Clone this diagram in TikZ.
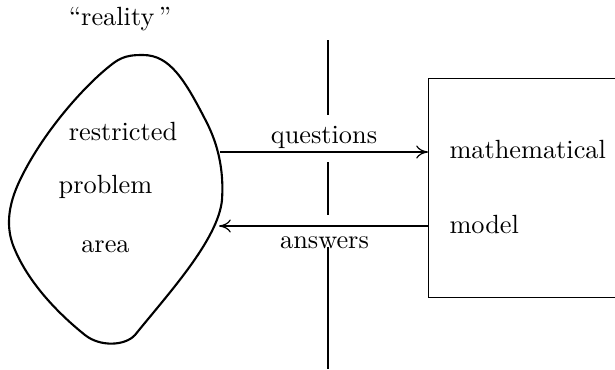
\documentclass[tikz,border=0pt]{standalone}
\usepackage{tikz}
\usetikzlibrary{positioning, arrows.meta}
\tikzset{
  blob/.style={draw, line width=0.8pt},
  label/.style={anchor=base, inner sep=0pt},
  boxlabel/.style={anchor=base west, inner sep=0pt},
  wire/.style={->, >={To[length=4.5pt, width=5pt]}, line width=0.45pt},
  divider/.style={line width=0.55pt}
}

\begin{document}
\begin{tikzpicture}[x=0.38pt, y=-0.38pt]
        \useasboundingbox (0,0) rectangle (615,369);
        \clip (0,0) rectangle (615,369);
        % the restricted problem area
        \draw[blob] (143,55) .. controls (170,55) and (185,80) .. (207,123)
          .. controls (218,145) and (224,170) .. (222,200)
          .. controls (218,240) and (168,294) .. (135,335)
          .. controls (125,346) and (100,347) .. (85,335)
          .. controls (60,315) and (30,285) .. (15,250)
          .. controls (5,228) and (8,205) .. (20,180)
          .. controls (45,128) and (90,80) .. (115,62)
          .. controls (125,55) and (135,55) .. (143,55) -- cycle;
        \node[label] (real) at (120,25) {``reality\,''};
        \node[label] (restr) at (123,140) {restricted};
        \node[label] (prob) at (105.5,193) {problem};
        \node[label] (area) at (105.5,252) {area};
        % the model box, open to the right
        \node[draw, line width=0.45pt, anchor=north west, inner sep=0pt,
              minimum width=90pt, minimum height=83.2pt] (model) at (428,78) {};
        \node[boxlabel] (math) at (449,158) {mathematical};
        \node[boxlabel] (mod) at (449,233) {model};
        % questions and answers
        \coordinate (qs) at (220,152);
        \coordinate (as) at (219,226);
        \draw[wire] (qs) -- (qs -| model.west);
        \draw[wire] (as -| model.west) -- (as);
        \node[label] (quest) at (324,143) {questions};
        \node[label] (answ) at (324.5,248) {answers};
        % the dividing line
        \draw[divider] (328,40) -- (328,115);
        \draw[divider] (328,162) -- (328,215);
        \draw[divider] (328,247) -- (328,369);
      \end{tikzpicture}
\end{document}
